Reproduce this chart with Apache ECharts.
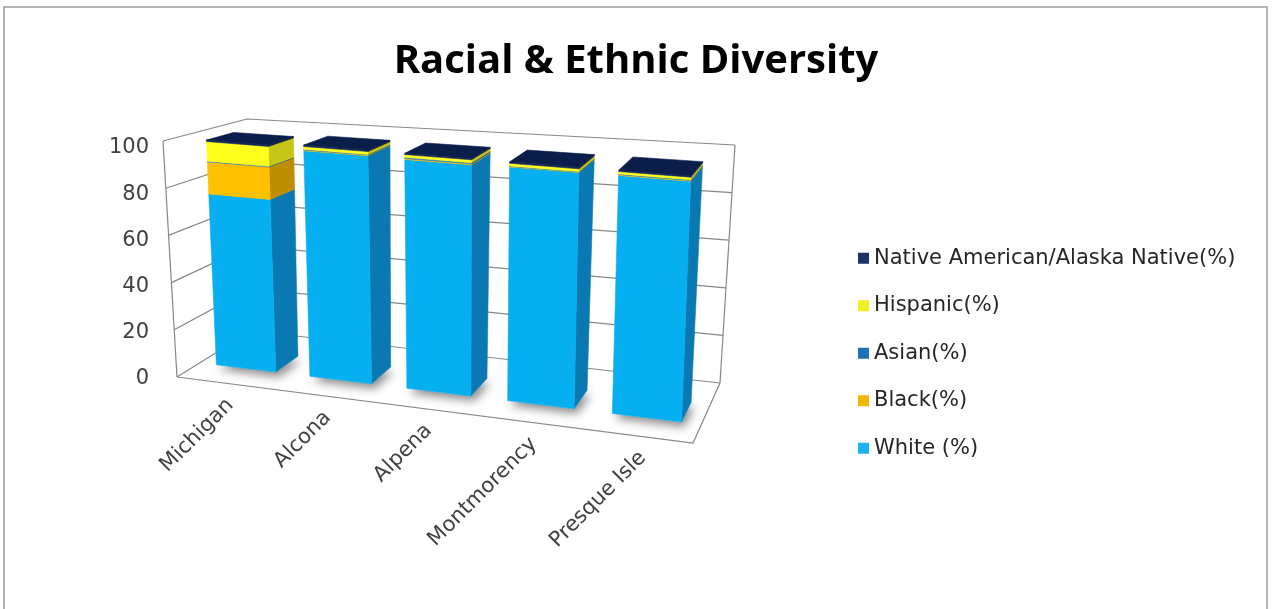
<!DOCTYPE html>
<html>
<head>
<meta charset="utf-8">
<script src="https://cdn.jsdelivr.net/npm/echarts@6/dist/echarts.min.js"></script>
<style>
  html, body { margin: 0; padding: 0; background: #ffffff; }
  #chart { width: 1272px; height: 609px; }
</style>
</head>
<body>
<div id="chart"></div>
<script>
// ---- data ----
const categories = ['Michigan', 'Alcona', 'Alpena', 'Montmorency', 'Presque Isle'];
const white    = [74.5, 96.8, 96.5, 96.9, 97.0];
const black    = [14.0, 0.3, 0.4, 0.2, 0.3];
const asian    = [0.3, 0.3, 0.5, 0.2, 0.3];
const hispanic = [8.6, 1.2, 1.2, 1.1, 1.0];
const native   = [0.6, 0.6, 0.5, 0.6, 0.5];
const yTicks   = [0, 20, 40, 60, 80, 100];
const seriesNames = ['White (%)', 'Black(%)', 'Asian(%)', 'Hispanic(%)', 'Native American/Alaska Native(%)'];
const seriesValues = [white, black, asian, hispanic, native];

// ---- styling ----
const faceColors = [
  { front: '#06AFF0', side: '#0A79B1', top: '#1394CC' },
  { front: '#FFC000', side: '#BE8E00', top: '#E0A900' },
  { front: '#2B79C3', side: '#1C568F', top: '#2467A9' },
  { front: '#FFFF1E', side: '#C6C616', top: '#E8E80C' },
  { front: '#14295B', side: '#0C1D44', top: '#0B1E4A' }
];
const legendColors = ['#1DB3EA', '#F2B705', '#2070BA', '#F0F020', '#1A3466'];

// perspective box of the plot: corners indexed by (u: category axis, v: value axis, w: depth)
const BOX = {
  c000: [177, 377], c100: [693, 443], c001: [251, 331], c101: [720, 383],
  c010: [163, 141], c110: [701, 189], c011: [247, 119], c111: [735, 145]
};
const BAR_FRONT = 0.31, BAR_BACK = 0.64, BAR_FILL = 0.64;
const FORESHORTEN = 1.1;   // categories further left recede slightly

function lerp(a, b, t) { return [a[0] + (b[0] - a[0]) * t, a[1] + (b[1] - a[1]) * t]; }
function proj(u, v, w) {
  const uu = u / (FORESHORTEN - (FORESHORTEN - 1) * u);
  const bottom = lerp(lerp(BOX.c000, BOX.c100, uu), lerp(BOX.c001, BOX.c101, uu), w);
  const top = lerp(lerp(BOX.c010, BOX.c110, uu), lerp(BOX.c011, BOX.c111, uu), w);
  return lerp(bottom, top, v);
}
// normalised plot coordinates from the cartesian grid
function toUV(cs, pt) {
  return [(pt[0] - cs.x) / cs.width, (cs.y + cs.height - pt[1]) / cs.height];
}

// stacked [category, base, top] items per group
const stackedData = seriesValues.map(function () { return []; });
categories.forEach(function (c, i) {
  let acc = 0;
  seriesValues.forEach(function (vals, k) {
    stackedData[k].push([i, acc, acc + vals[i]]);
    acc += vals[i];
  });
});

const GRID_COLOR = '#878787';

function renderFrame(params, api) {
  const cs = params.coordSys;
  const children = [];
  const line = function (pts) {
    children.push({ type: 'polyline', shape: { points: pts },
      style: { stroke: GRID_COLOR, lineWidth: 1.2, fill: null } });
  };
  yTicks.forEach(function (t) {
    const v = toUV(cs, api.coord([0, t]))[1];
    line([proj(0, v, 0), proj(0, v, 1), proj(1, v, 1)]);
  });
  const vTop = toUV(cs, api.coord([0, yTicks[yTicks.length - 1]]))[1];
  line([proj(0, 0, 0), proj(0, vTop, 0)]);
  line([proj(1, 0, 1), proj(1, vTop, 1)]);
  line([proj(0, 0, 0), proj(1, 0, 0), proj(1, 0, 1)]);
  return { type: 'group', children: children };
}

function makeBarRenderer(k) {
  const col = faceColors[k];
  const isTop = k === seriesValues.length - 1;
  return function (params, api) {
    const cs = params.coordSys;
    const i = api.value(0);
    const uc = toUV(cs, api.coord([i, 0]))[0];
    const hw = api.size([1, 0])[0] / cs.width * BAR_FILL / 2;
    const u0 = uc - hw, u1 = uc + hw;
    const v0 = toUV(cs, api.coord([i, api.value(1)]))[1];
    const v1 = toUV(cs, api.coord([i, api.value(2)]))[1];
    const wf = BAR_FRONT, wb = BAR_BACK;
    const poly = function (pts, color, extra) {
      const style = Object.assign({ fill: color, stroke: color, lineWidth: 0.6 }, extra || {});
      return { type: 'polygon', shape: { points: pts }, style: style };
    };
    const children = [];
    if (k === 0) {
      children.push(poly([proj(u0, 0, wf), proj(u1, 0, wf), proj(u1, 0, wb), proj(u0, 0, wb)], '#ffffff',
        { stroke: null, shadowBlur: 10, shadowColor: 'rgba(0,0,0,0.45)', shadowOffsetX: 3, shadowOffsetY: 5 }));
    }
    children.push(poly([proj(u1, v0, wf), proj(u1, v0, wb), proj(u1, v1, wb), proj(u1, v1, wf)], col.side));
    children.push(poly([proj(u0, v0, wf), proj(u1, v0, wf), proj(u1, v1, wf), proj(u0, v1, wf)], col.front));
    if (isTop) {
      children.push(poly([proj(u0, v1, wf), proj(u1, v1, wf), proj(u1, v1, wb), proj(u0, v1, wb)], col.top));
    }
    return { type: 'group', children: children };
  };
}

function renderCategoryLabel(params, api) {
  const cs = params.coordSys;
  const i = api.value(0);
  const uc = toUV(cs, api.coord([i, 0]))[0];
  const p = proj(uc, 0, 0);
  return {
    type: 'text', x: p[0] + 6, y: p[1] + 19, rotation: Math.PI / 4,
    style: { text: categories[i], align: 'right', verticalAlign: 'middle',
      fill: '#404040', font: '21px "DejaVu Sans", sans-serif' }
  };
}

const series = [{
  type: 'custom', name: 'frame', renderItem: renderFrame, data: [[0, 0]],
  z: 1, silent: true, clip: false, legendHoverLink: false
}];
seriesValues.forEach(function (vals, k) {
  series.push({
    type: 'custom', name: seriesNames[k], renderItem: makeBarRenderer(k),
    data: stackedData[k], encode: { x: 0, y: [1, 2] },
    itemStyle: { color: legendColors[k] }, z: 2, clip: false
  });
});
series.push({
  type: 'custom', name: 'labels', renderItem: renderCategoryLabel,
  data: categories.map(function (c, i) { return [i, 0]; }), z: 3, silent: true, clip: false
});

const chart = echarts.init(document.getElementById('chart'), null, { renderer: 'canvas' });
chart.setOption({
  animation: false,
  backgroundColor: '#ffffff',
  title: {
    text: 'Racial & Ethnic Diversity', left: 'center', top: 37,
    textStyle: { fontSize: 40, fontWeight: 'bold', color: '#000000', fontFamily: '"Open Sans", sans-serif' }
  },
  legend: {
    orient: 'vertical', left: 853, top: 242, itemGap: 25, itemWidth: 11, itemHeight: 11,
    icon: 'rect', selectedMode: false,
    data: seriesNames.slice().reverse(),
    textStyle: { fontSize: 21, color: '#262626', fontFamily: '"DejaVu Sans", sans-serif', lineHeight: 22.5 }
  },
  graphic: [{
    type: 'rect', shape: { x: 4, y: 7, width: 1263, height: 640 },
    style: { fill: null, stroke: '#9C9C9C', lineWidth: 1.5 }, silent: true, z: -1
  }],
  grid: { left: 158, top: 148, width: 515, height: 231 },
  xAxis: { type: 'category', data: categories, show: false },
  yAxis: {
    type: 'value', min: 0, max: 100, interval: 20,
    axisLine: { show: false }, axisTick: { show: false }, splitLine: { show: false },
    axisLabel: { margin: 9, fontSize: 21, color: '#404040', fontFamily: '"DejaVu Sans", sans-serif' }
  },
  series: series
});
</script>
</body>
</html>
